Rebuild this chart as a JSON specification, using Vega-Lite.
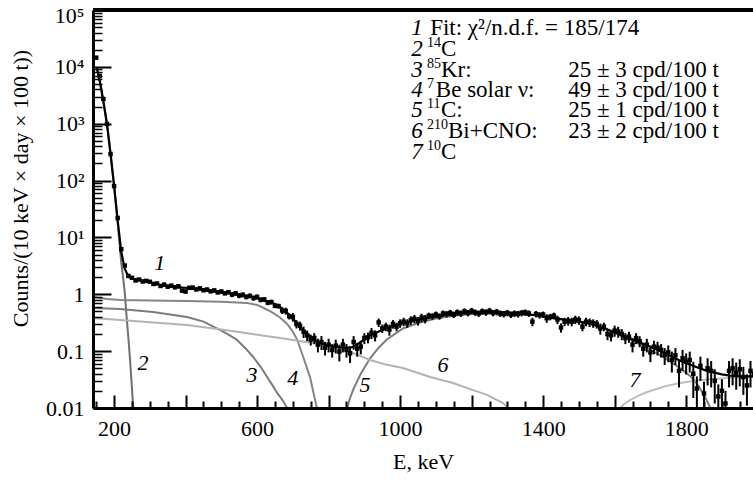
{
  "$schema": "https://vega.github.io/schema/vega-lite/v6.json",
  "width": 660,
  "height": 398,
  "autosize": "none",
  "padding": {"left": 93, "top": 10, "right": 0, "bottom": 76},
  "background": "white",
  "config": {
    "view": {"stroke": null},
    "font": "Liberation Serif",
    "axis": {
      "labelFont": "Liberation Serif",
      "titleFont": "Liberation Serif",
      "labelColor": "black",
      "titleColor": "black",
      "labelFontSize": 22,
      "titleFontSize": 22,
      "titleFontWeight": "normal",
      "grid": false,
      "ticks": true,
      "domainColor": "black",
      "tickColor": "black",
      "tickOpacity": 1
    }
  },
  "resolve": {"axis": {"x": "independent", "y": "independent"}},
  "datasets": {
    "pts": [
      {"E":150,"v":14500,"e":300},{"E":160,"v":6900,"e":140},{"E":170,"v":2720,"e":55},{"E":180,"v":990,"e":20},
      {"E":190,"v":293,"e":6},{"E":200,"v":80,"e":1.6},{"E":210,"v":22,"e":0.45},{"E":220,"v":6.2,"e":0.13},
      {"E":230,"v":3.2,"e":0.07},{"E":240,"v":2.1,"e":0.12},{"E":250,"v":1.95,"e":0.12},{"E":260,"v":1.75,"e":0.1},
      {"E":270,"v":1.82,"e":0.11},{"E":280,"v":1.68,"e":0.1},{"E":290,"v":1.72,"e":0.1},{"E":300,"v":1.66,"e":0.1},
      {"E":310,"v":1.52,"e":0.09},{"E":320,"v":1.55,"e":0.09},{"E":330,"v":1.4,"e":0.11},{"E":340,"v":1.48,"e":0.12},
      {"E":350,"v":1.36,"e":0.11},{"E":360,"v":1.42,"e":0.11},{"E":370,"v":1.33,"e":0.11},{"E":380,"v":1.38,"e":0.11},
      {"E":390,"v":1.16,"e":0.09},{"E":400,"v":1.12,"e":0.09},{"E":410,"v":1.3,"e":0.1},{"E":420,"v":1.31,"e":0.1},
      {"E":430,"v":1.22,"e":0.1},{"E":440,"v":1.27,"e":0.1},{"E":450,"v":1.18,"e":0.09},{"E":460,"v":1.21,"e":0.1},
      {"E":470,"v":1.13,"e":0.09},{"E":480,"v":1.17,"e":0.09},{"E":490,"v":1.08,"e":0.09},{"E":500,"v":1.12,"e":0.09},
      {"E":510,"v":1.04,"e":0.08},{"E":520,"v":1.09,"e":0.09},{"E":530,"v":0.99,"e":0.1},{"E":540,"v":1.04,"e":0.1},
      {"E":550,"v":0.95,"e":0.1},{"E":560,"v":0.98,"e":0.1},{"E":570,"v":0.9,"e":0.09},{"E":580,"v":0.94,"e":0.09},
      {"E":590,"v":0.86,"e":0.09},{"E":600,"v":0.9,"e":0.09},{"E":610,"v":0.8,"e":0.08},{"E":620,"v":0.81,"e":0.08},
      {"E":630,"v":0.71,"e":0.07},{"E":640,"v":0.73,"e":0.07},{"E":650,"v":0.63,"e":0.06},{"E":660,"v":0.62,"e":0.06},
      {"E":670,"v":0.52,"e":0.07},{"E":680,"v":0.51,"e":0.07},{"E":690,"v":0.41,"e":0.05},{"E":700,"v":0.4,"e":0.07},
      {"E":710,"v":0.3,"e":0.05},{"E":720,"v":0.28,"e":0.05},{"E":730,"v":0.22,"e":0.05},{"E":740,"v":0.19,"e":0.04},
      {"E":750,"v":0.16,"e":0.035},{"E":760,"v":0.17,"e":0.037},{"E":770,"v":0.13,"e":0.035},{"E":780,"v":0.145,"e":0.04},
      {"E":790,"v":0.115,"e":0.031},{"E":800,"v":0.13,"e":0.035},{"E":810,"v":0.105,"e":0.028},{"E":820,"v":0.125,"e":0.034},
      {"E":830,"v":0.098,"e":0.032},{"E":840,"v":0.13,"e":0.035},{"E":850,"v":0.105,"e":0.028},{"E":860,"v":0.092,"e":0.03},
      {"E":870,"v":0.145,"e":0.039},{"E":880,"v":0.11,"e":0.03},{"E":890,"v":0.12,"e":0.032},{"E":900,"v":0.17,"e":0.037},
      {"E":910,"v":0.175,"e":0.038},{"E":920,"v":0.21,"e":0.046},{"E":930,"v":0.19,"e":0.042},{"E":940,"v":0.32,"e":0.054},
      {"E":950,"v":0.25,"e":0.042},{"E":960,"v":0.27,"e":0.046},{"E":970,"v":0.24,"e":0.053},{"E":980,"v":0.3,"e":0.051},
      {"E":990,"v":0.27,"e":0.046},{"E":1000,"v":0.31,"e":0.053},{"E":1010,"v":0.33,"e":0.056},{"E":1020,"v":0.31,"e":0.053},
      {"E":1030,"v":0.35,"e":0.06},{"E":1040,"v":0.37,"e":0.063},{"E":1050,"v":0.34,"e":0.058},{"E":1060,"v":0.39,"e":0.066},
      {"E":1070,"v":0.37,"e":0.063},{"E":1080,"v":0.42,"e":0.055},{"E":1090,"v":0.41,"e":0.053},{"E":1100,"v":0.44,"e":0.057},
      {"E":1110,"v":0.41,"e":0.053},{"E":1120,"v":0.46,"e":0.06},{"E":1130,"v":0.45,"e":0.058},{"E":1140,"v":0.47,"e":0.061},
      {"E":1150,"v":0.44,"e":0.057},{"E":1160,"v":0.48,"e":0.062},{"E":1170,"v":0.46,"e":0.06},{"E":1180,"v":0.5,"e":0.065},
      {"E":1190,"v":0.47,"e":0.061},{"E":1200,"v":0.51,"e":0.066},{"E":1210,"v":0.48,"e":0.062},{"E":1220,"v":0.46,"e":0.06},
      {"E":1230,"v":0.5,"e":0.065},{"E":1240,"v":0.48,"e":0.062},{"E":1250,"v":0.51,"e":0.066},{"E":1260,"v":0.47,"e":0.061},
      {"E":1270,"v":0.49,"e":0.064},{"E":1280,"v":0.46,"e":0.06},{"E":1290,"v":0.45,"e":0.059},{"E":1300,"v":0.47,"e":0.061},
      {"E":1310,"v":0.44,"e":0.057},{"E":1320,"v":0.46,"e":0.06},{"E":1330,"v":0.45,"e":0.059},{"E":1340,"v":0.47,"e":0.061},
      {"E":1350,"v":0.48,"e":0.062},{"E":1360,"v":0.46,"e":0.06},{"E":1370,"v":0.33,"e":0.056},{"E":1380,"v":0.45,"e":0.059},
      {"E":1390,"v":0.43,"e":0.056},{"E":1400,"v":0.44,"e":0.057},{"E":1410,"v":0.38,"e":0.065},{"E":1420,"v":0.4,"e":0.052},
      {"E":1430,"v":0.42,"e":0.055},{"E":1440,"v":0.36,"e":0.061},{"E":1450,"v":0.26,"e":0.048},{"E":1460,"v":0.33,"e":0.056},
      {"E":1470,"v":0.34,"e":0.058},{"E":1480,"v":0.33,"e":0.056},{"E":1490,"v":0.36,"e":0.061},{"E":1500,"v":0.35,"e":0.06},
      {"E":1510,"v":0.27,"e":0.046},{"E":1520,"v":0.33,"e":0.056},{"E":1530,"v":0.32,"e":0.054},{"E":1540,"v":0.31,"e":0.053},
      {"E":1550,"v":0.3,"e":0.051},{"E":1560,"v":0.25,"e":0.055},{"E":1570,"v":0.27,"e":0.046},{"E":1580,"v":0.2,"e":0.044},
      {"E":1590,"v":0.19,"e":0.042},{"E":1600,"v":0.23,"e":0.051},{"E":1610,"v":0.22,"e":0.048},{"E":1620,"v":0.2,"e":0.044},
      {"E":1630,"v":0.17,"e":0.037},{"E":1640,"v":0.18,"e":0.04},{"E":1650,"v":0.13,"e":0.035},{"E":1660,"v":0.17,"e":0.037},
      {"E":1670,"v":0.15,"e":0.033},{"E":1680,"v":0.11,"e":0.03},{"E":1690,"v":0.13,"e":0.035},{"E":1700,"v":0.095,"e":0.031},
      {"E":1710,"v":0.12,"e":0.032},{"E":1720,"v":0.115,"e":0.031},{"E":1730,"v":0.105,"e":0.028},{"E":1740,"v":0.085,"e":0.028},
      {"E":1750,"v":0.095,"e":0.031},{"E":1760,"v":0.07,"e":0.028},{"E":1770,"v":0.085,"e":0.028},{"E":1780,"v":0.045,"e":0.022},
      {"E":1790,"v":0.075,"e":0.03},{"E":1800,"v":0.065,"e":0.026},{"E":1810,"v":0.07,"e":0.028},{"E":1820,"v":0.04,"e":0.025},
      {"E":1830,"v":0.022,"e":0.014},{"E":1840,"v":0.055,"e":0.025},{"E":1850,"v":0.018,"e":0.011},{"E":1860,"v":0.05,"e":0.025},
      {"E":1870,"v":0.045,"e":0.022},{"E":1880,"v":0.03,"e":0.018},{"E":1890,"v":0.016,"e":0.01},{"E":1900,"v":0.02,"e":0.012},
      {"E":1910,"v":0.012,"e":0.008},{"E":1920,"v":0.045,"e":0.022},{"E":1930,"v":0.05,"e":0.025},{"E":1940,"v":0.042,"e":0.021},
      {"E":1950,"v":0.048,"e":0.024},{"E":1960,"v":0.035,"e":0.018},{"E":1970,"v":0.025,"e":0.014},{"E":1980,"v":0.045,"e":0.022},
      {"E":1990,"v":0.04,"e":0.02}
    ],
    "fit": [
      {"E":152,"v":9500},{"E":160,"v":5600},{"E":170,"v":2500},{"E":180,"v":1000},{"E":190,"v":300},{"E":200,"v":82},
      {"E":210,"v":20},{"E":220,"v":5.6},{"E":230,"v":2.8},{"E":240,"v":2.05},{"E":250,"v":1.88},{"E":272,"v":1.78},
      {"E":300,"v":1.62},{"E":328,"v":1.47},{"E":360,"v":1.38},{"E":404,"v":1.29},{"E":450,"v":1.2},{"E":496,"v":1.1},
      {"E":540,"v":1.0},{"E":588,"v":0.895},{"E":620,"v":0.78},{"E":644,"v":0.7},{"E":664,"v":0.6},{"E":684,"v":0.47},
      {"E":706,"v":0.34},{"E":728,"v":0.236},{"E":748,"v":0.18},{"E":768,"v":0.145},{"E":800,"v":0.123},{"E":824,"v":0.117},
      {"E":850,"v":0.114},{"E":868,"v":0.118},{"E":890,"v":0.145},{"E":916,"v":0.19},{"E":963,"v":0.255},{"E":1008,"v":0.313},
      {"E":1060,"v":0.37},{"E":1100,"v":0.41},{"E":1148,"v":0.46},{"E":1200,"v":0.483},{"E":1243,"v":0.49},{"E":1290,"v":0.48},
      {"E":1335,"v":0.458},{"E":1380,"v":0.428},{"E":1430,"v":0.38},{"E":1480,"v":0.345},{"E":1530,"v":0.31},{"E":1570,"v":0.256},
      {"E":1600,"v":0.215},{"E":1650,"v":0.161},{"E":1691,"v":0.126},{"E":1740,"v":0.093},{"E":1783,"v":0.068},{"E":1830,"v":0.052},
      {"E":1858,"v":0.045},{"E":1900,"v":0.039},{"E":1923,"v":0.037},{"E":1960,"v":0.036},{"E":1987,"v":0.036}
    ],
    "comp": [
      {"c":"C14","E":152,"v":9500},{"c":"C14","E":160,"v":5500},{"c":"C14","E":170,"v":2450},{"c":"C14","E":180,"v":980},
      {"c":"C14","E":190,"v":290},{"c":"C14","E":200,"v":78},{"c":"C14","E":210,"v":18},{"c":"C14","E":220,"v":3.6},
      {"c":"C14","E":226,"v":1.8},{"c":"C14","E":230,"v":1.05},{"c":"C14","E":235,"v":0.4},{"c":"C14","E":240,"v":0.17},
      {"c":"C14","E":245,"v":0.065},{"c":"C14","E":250,"v":0.022},{"c":"C14","E":254,"v":0.009},

      {"c":"Kr85","E":141,"v":0.574},{"c":"Kr85","E":217,"v":0.55},{"c":"Kr85","E":309,"v":0.488},{"c":"Kr85","E":404,"v":0.398},
      {"c":"Kr85","E":450,"v":0.33},{"c":"Kr85","E":496,"v":0.236},{"c":"Kr85","E":520,"v":0.195},{"c":"Kr85","E":544,"v":0.157},
      {"c":"Kr85","E":566,"v":0.115},{"c":"Kr85","E":589,"v":0.079},{"c":"Kr85","E":610,"v":0.053},{"c":"Kr85","E":628,"v":0.035},
      {"c":"Kr85","E":645,"v":0.024},{"c":"Kr85","E":656,"v":0.0184},{"c":"Kr85","E":672,"v":0.0135},{"c":"Kr85","E":688,"v":0.009},

      {"c":"Be7","E":141,"v":0.895},{"c":"Be7","E":180,"v":0.83},{"c":"Be7","E":217,"v":0.793},{"c":"Be7","E":300,"v":0.775},
      {"c":"Be7","E":404,"v":0.76},{"c":"Be7","E":500,"v":0.74},{"c":"Be7","E":572,"v":0.7},{"c":"Be7","E":600,"v":0.65},
      {"c":"Be7","E":617,"v":0.58},{"c":"Be7","E":640,"v":0.49},{"c":"Be7","E":664,"v":0.39},{"c":"Be7","E":684,"v":0.3},
      {"c":"Be7","E":700,"v":0.22},{"c":"Be7","E":712,"v":0.16},{"c":"Be7","E":729,"v":0.079},{"c":"Be7","E":748,"v":0.035},
      {"c":"Be7","E":762,"v":0.014},{"c":"Be7","E":769,"v":0.009},

      {"c":"C11","E":850,"v":0.009},{"c":"C11","E":860,"v":0.015},{"c":"C11","E":870,"v":0.022},{"c":"C11","E":890,"v":0.04},
      {"c":"C11","E":916,"v":0.075},{"c":"C11","E":940,"v":0.115},{"c":"C11","E":963,"v":0.16},{"c":"C11","E":1008,"v":0.25},
      {"c":"C11","E":1056,"v":0.32},{"c":"C11","E":1100,"v":0.375},{"c":"C11","E":1148,"v":0.42},{"c":"C11","E":1200,"v":0.45},
      {"c":"C11","E":1243,"v":0.463},{"c":"C11","E":1290,"v":0.464},{"c":"C11","E":1335,"v":0.455},{"c":"C11","E":1380,"v":0.426},
      {"c":"C11","E":1430,"v":0.378},{"c":"C11","E":1480,"v":0.343},{"c":"C11","E":1530,"v":0.307},{"c":"C11","E":1570,"v":0.253},
      {"c":"C11","E":1600,"v":0.21},{"c":"C11","E":1650,"v":0.153},{"c":"C11","E":1691,"v":0.113},{"c":"C11","E":1740,"v":0.076},
      {"c":"C11","E":1783,"v":0.05},{"c":"C11","E":1810,"v":0.037},{"c":"C11","E":1830,"v":0.027},{"c":"C11","E":1850,"v":0.017},
      {"c":"C11","E":1862,"v":0.012},{"c":"C11","E":1871,"v":0.009},

      {"c":"Bi210","E":141,"v":0.383},{"c":"Bi210","E":217,"v":0.354},{"c":"Bi210","E":404,"v":0.288},{"c":"Bi210","E":500,"v":0.24},
      {"c":"Bi210","E":600,"v":0.195},{"c":"Bi210","E":664,"v":0.17},{"c":"Bi210","E":750,"v":0.14},{"c":"Bi210","E":824,"v":0.118},
      {"c":"Bi210","E":870,"v":0.092},{"c":"Bi210","E":916,"v":0.0698},{"c":"Bi210","E":960,"v":0.058},{"c":"Bi210","E":1008,"v":0.0505},
      {"c":"Bi210","E":1084,"v":0.035},{"c":"Bi210","E":1148,"v":0.0275},{"c":"Bi210","E":1200,"v":0.021},{"c":"Bi210","E":1243,"v":0.017},
      {"c":"Bi210","E":1288,"v":0.0122},{"c":"Bi210","E":1310,"v":0.009},

      {"c":"C10","E":1610,"v":0.009},{"c":"C10","E":1625,"v":0.0115},{"c":"C10","E":1643,"v":0.0138},{"c":"C10","E":1670,"v":0.0168},
      {"c":"C10","E":1691,"v":0.0191},{"c":"C10","E":1740,"v":0.024},{"c":"C10","E":1783,"v":0.0275},{"c":"C10","E":1830,"v":0.0305},
      {"c":"C10","E":1875,"v":0.0324},{"c":"C10","E":1930,"v":0.034},{"c":"C10","E":1987,"v":0.035}
    ],
    "frame": [{"E":141,"E2":1987,"v":100000}],
    "curveNums": [
      {"E":328,"v":3.5,"t":"1"},{"E":281,"v":0.062,"t":"2"},{"E":586,"v":0.038,"t":"3"},{"E":700,"v":0.034,"t":"4"},
      {"E":902,"v":0.0254,"t":"5"},{"E":1120,"v":0.057,"t":"6"},{"E":1657,"v":0.031,"t":"7"}
    ],
    "keyNums": [
      {"E":1047,"v":48200,"t":"1"},{"E":1047,"v":20600,"t":"2"},{"E":1047,"v":8790,"t":"3"},{"E":1047,"v":3920,"t":"4"},
      {"E":1047,"v":1740,"t":"5"},{"E":1047,"v":745,"t":"6"},{"E":1047,"v":318,"t":"7"}
    ],
    "keyText": [
      {"E":1084,"v":48200,"t":"Fit: χ²/n.d.f. = 185/174"},{"E":1114,"v":20600,"t":"C"},{"E":1114,"v":8790,"t":"Kr:"},
      {"E":1100,"v":3920,"t":"Be solar ν:"},{"E":1114,"v":1740,"t":"C:"},{"E":1134,"v":745,"t":"Bi+CNO:"},
      {"E":1114,"v":318,"t":"C"},
      {"E":1470,"v":8790,"t":"25 ± 3 cpd/100 t"},{"E":1470,"v":3920,"t":"49 ± 3 cpd/100 t"},
      {"E":1470,"v":1740,"t":"25 ± 1 cpd/100 t"},{"E":1470,"v":745,"t":"23 ± 2 cpd/100 t"}
    ],
    "keySup": [
      {"E":1075,"v":20600,"t":"14"},{"E":1075,"v":8790,"t":"85"},{"E":1075,"v":3920,"t":"7"},
      {"E":1075,"v":1740,"t":"11"},{"E":1075,"v":745,"t":"210"},{"E":1075,"v":318,"t":"10"}
    ]
  },
  "encoding": {
    "x": {"field": "E", "type": "quantitative", "scale": {"domain": [141, 1987], "nice": false, "zero": false}, "axis": null},
    "y": {"field": "v", "type": "quantitative", "scale": {"type": "log", "domain": [0.01, 100000], "nice": false}, "axis": null}
  },
  "layer": [
    {
      "data": {"name": "comp"},
      "mark": {"type": "line", "clip": true, "strokeWidth": 2},
      "encoding": {
        "x": {
          "field": "E", "type": "quantitative",
          "scale": {"domain": [141, 1987], "nice": false, "zero": false},
          "axis": {
            "orient": "bottom",
            "title": "E, keV",
            "values": [200,400,600,800,1000,1200,1400,1600,1800],
            "format": "d",
            "labelExpr": "(datum.value - 200) % 400 === 0 ? datum.label : ''",
            "labelOverlap": false,
            "labelFlush": false,
            "ticks": true,
            "tickSize": -13,
            "tickWidth": 2,
            "tickColor": "black",
            "tickOpacity": 1,
            "domainWidth": 3,
            "labelPadding": 23,
            "titlePadding": 12,
            "zindex": 1
          }
        },
        "y": {
          "field": "v", "type": "quantitative",
          "scale": {"type": "log", "domain": [0.01, 100000], "nice": false},
          "axis": {
            "orient": "left",
            "title": "Counts/(10 keV × day × 100 t))",
            "values": [0.01, 0.1, 1, 10, 100, 1000, 10000],
            "labelExpr": "datum.value === 0.01 ? '0.01' : datum.value === 0.1 ? '0.1' : datum.value === 1 ? '1' : datum.value === 10 ? '10¹' : datum.value === 100 ? '10²' : datum.value === 1000 ? '10³' : '10⁴'",
            "labelOverlap": false,
            "labelFlush": false,
            "tickSize": -18,
            "tickWidth": 2,
            "domainWidth": 3,
            "labelPadding": 27,
            "titleX": -73,
            "titleY": 178,
            "titleBaseline": "middle",
            "zindex": 1
          }
        },
        "color": {
          "field": "c", "type": "nominal", "legend": null,
          "scale": {"domain": ["C14","Kr85","Be7","C11","Bi210","C10"], "range": ["#6f6f6f","#7c7c7c","#858585","#7c7c7c","#b3b3b3","#bdbdbd"]}
        }
      }
    },
    {
      "data": {"name": "pts"},
      "mark": {"type": "errorbar", "clip": true, "color": "black", "thickness": 2},
      "encoding": {"yError": {"field": "e"}}
    },
    {
      "data": {"name": "pts"},
      "mark": {"type": "square", "clip": true, "filled": true, "color": "black", "size": 20, "opacity": 1}
    },
    {
      "data": {"name": "fit"},
      "mark": {"type": "line", "clip": true, "color": "black", "strokeWidth": 2.2}
    },
    {
      "data": {"name": "frame"},
      "mark": {"type": "rule", "color": "black", "strokeWidth": 4},
      "encoding": {
        "x": {
          "field": "E", "type": "quantitative",
          "scale": {"domain": [141, 1987], "nice": false, "zero": false},
          "axis": {
            "orient": "bottom",
            "title": null,
            "labels": false,
            "domain": false,
            "values": [150,250,300,350,450,500,550,650,700,750,850,900,950,1050,1100,1150,1250,1300,1350,1450,1500,1550,1650,1700,1750,1850,1900,1950],
            "ticks": true,
            "tickSize": -7,
            "tickWidth": 2,
            "tickColor": "black",
            "tickOpacity": 1,
            "zindex": 1
          }
        },
        "x2": {"field": "E2"},
        "y": {
          "field": "v", "type": "quantitative",
          "scale": {"type": "log", "domain": [0.01, 100000], "nice": false},
          "axis": {
            "orient": "left",
            "title": null,
            "labels": false,
            "domain": false,
            "values": [0.02,0.03,0.04,0.05,0.06,0.07,0.08,0.09,0.2,0.3,0.4,0.5,0.6,0.7,0.8,0.9,2,3,4,5,6,7,8,9,20,30,40,50,60,70,80,90,200,300,400,500,600,700,800,900,2000,3000,4000,5000,6000,7000,8000,9000,20000,30000,40000,50000,60000,70000,80000,90000],
            "tickSize": -9,
            "tickWidth": 1.5,
            "zindex": 1
          }
        }
      }
    },
    {
      "data": {"name": "curveNums"},
      "mark": {"type": "text", "font": "Liberation Serif", "fontSize": 22, "fontStyle": "italic", "color": "black", "align": "center", "baseline": "middle"},
      "encoding": {
        "y": {
          "field": "v", "type": "quantitative",
          "scale": {"type": "log", "domain": [0.01, 100000], "nice": false},
          "axis": {
            "orient": "left",
            "title": null,
            "domain": false,
            "values": [100000],
            "labelExpr": "'10⁵'",
            "labelOverlap": false,
            "labelFlush": false,
            "labelOffset": 5,
            "tickSize": -18,
            "tickWidth": 2,
            "labelPadding": 27
          }
        },
        "text": {"field": "t"}
      }
    },
    {
      "data": {"name": "keyNums"},
      "mark": {"type": "text", "font": "Liberation Serif", "fontSize": 23, "fontStyle": "italic", "color": "black", "align": "center", "baseline": "middle"},
      "encoding": {"text": {"field": "t"}}
    },
    {
      "data": {"name": "keyText"},
      "mark": {"type": "text", "font": "Liberation Serif", "fontSize": 23, "color": "black", "align": "left", "baseline": "middle"},
      "encoding": {"text": {"field": "t"}}
    },
    {
      "data": {"name": "keySup"},
      "mark": {"type": "text", "font": "Liberation Serif", "fontSize": 14, "color": "black", "align": "left", "baseline": "middle", "dy": -6},
      "encoding": {"text": {"field": "t"}}
    }
  ]
}
